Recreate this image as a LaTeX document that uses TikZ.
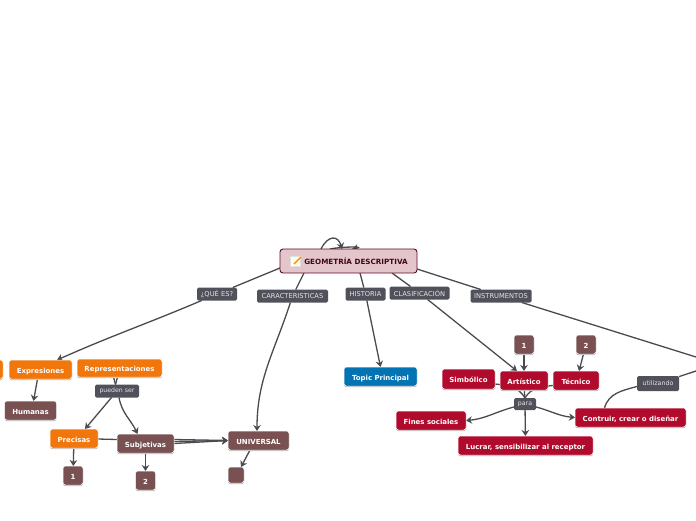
\documentclass[tikz,border=0pt]{standalone}
\usepackage{fontspec}
\setmainfont{DejaVu Sans}
\usetikzlibrary{positioning,shadows,backgrounds,arrows.meta}
\definecolor{rootFill}{HTML}{E4C5CB}
\definecolor{rootDark}{HTML}{5A0A20}
\definecolor{mapOrange}{HTML}{F1760C}
\definecolor{mapBrown}{HTML}{7A5152}
\definecolor{mapRed}{HTML}{B00A2C}
\definecolor{mapBlue}{HTML}{0274B3}
\definecolor{tagGrey}{HTML}{50515A}
\definecolor{lineGrey}{HTML}{4A4A50}

\begin{document}
\begin{tikzpicture}[x=1pt, y=-1pt,
      box/.style={rounded corners=2.5pt, draw=white, line width=0.5pt, outer sep=0pt, inner sep=0pt,
                  minimum height=19pt, text=white, align=center, text height=7.5pt, text depth=0pt,
                  font=\fontsize{6.95}{8}\selectfont\bfseries,
                  drop shadow={shadow xshift=0pt, shadow yshift=-1.2pt, fill=black!28, opacity=1}},
      orangebox/.style={box, fill=mapOrange},
      brownbox/.style={box, fill=mapBrown},
      redbox/.style={box, fill=mapRed},
      bluebox/.style={box, fill=mapBlue},
      tag/.style={rounded corners=1.5pt, fill=tagGrey, outer sep=0pt, inner sep=0pt, minimum height=13pt,
                  text=white!90!black, font=\fontsize{6.7}{8}\selectfont},
      arr/.style={-{Stealth[length=6pt, width=7.5pt]}, line width=1.3pt, lineGrey},
      lin/.style={line width=1.3pt, lineGrey}]
    \useasboundingbox (0,0) rectangle (696,520);

    \node[rounded corners=3pt, fill=rootFill, draw=rootDark, line width=0.9pt, outer sep=0pt,
          minimum width=137pt, minimum height=24pt, text=rootDark!70!black,
          font=\fontsize{7.2}{8}\selectfont\bfseries] (root) at (348.5,261)
      {\hspace*{15pt}GEOMETRÍA DESCRIPTIVA};
    \fill[black!12] (290,256) rectangle (301,267);
    \fill[yellow!10!white] (291,257) rectangle (300,266);
    \draw[orange, line width=1.4pt] (294,264) -- (301,257);

    \node[tag, minimum width=40pt] (quees) at (217,294) {¿QUÉ ES?};
    \node[tag, minimum width=71pt] (caract) at (292.5,296) {CARACTERISTICAS};
    \node[tag, minimum width=40pt] (historia) at (365.5,294) {HISTORIA};
    \node[tag, minimum width=60pt] (clasif) at (419.5,293) {CLASIFICACIÓN};
    \node[tag, minimum width=61pt] (instr) at (501,296) {INSTRUMENTOS};

    \node[orangebox, minimum width=8pt] (cutoff) at (-1,369.5) {};
    \node[orangebox, minimum width=63pt] (expr) at (40.5,369.5) {Expresiones};
    \node[orangebox, minimum width=85pt, minimum height=18pt] (repr) at (119.5,368) {Representaciones};
    \node[tag, minimum width=44pt, font=\fontsize{6.2}{8}\selectfont] (pueden) at (117,391) {pueden ser};
    \node[brownbox, minimum width=52pt, below=22pt of expr.south, xshift=-10pt] (humanas) {Humanas};
    \node[orangebox, minimum width=48pt] (precisas) at (74,438.5) {Precisas};
    \node[brownbox, minimum width=57pt] (subj) at (145.5,443.5) {Subjetivas};
    \node[brownbox, minimum width=61pt] (univ) at (258.5,440.5) {UNIVERSAL};
    \node[brownbox, minimum width=20pt, below=18pt of precisas, xshift=-1pt] (uno) {1};
    \node[brownbox, minimum width=20pt, below=18pt of subj] (dos) {2};
    \node[brownbox, minimum width=16pt, minimum height=16pt] (vacio) at (236,475) {};

    \node[bluebox, minimum width=73pt] (topic) at (380.5,376.5) {Topic Principal};
    \node[redbox, minimum width=53pt, minimum height=20pt] (simb) at (468.5,379) {Simbólico};
    \node[redbox, minimum width=48pt] (art) at (524,380.5) {Artístico};
    \node[redbox, minimum width=46pt, right=5pt of art] (tec) {Técnico};
    \node[brownbox, minimum width=20pt, above=17pt of art] (artuno) {1};
    \node[brownbox, minimum width=20pt] (tecdos) at (586,344.5) {2};
    \node[tag, minimum width=22pt, minimum height=12pt, font=\fontsize{6.2}{8}\selectfont] (para) at (525,404) {para};
    \node[redbox, minimum width=70pt] (fines) at (431,420.5) {Fines sociales};
    \node[redbox, minimum width=111pt] (contruir) at (630.5,417.5) {Contruir, crear o diseñar};
    \node[redbox, minimum width=135pt] (lucrar) at (525.5,445.5) {Lucrar, sensibilizar al receptor};
    \node[tag, minimum width=42pt, minimum height=15pt, font=\fontsize{6.3}{8}\selectfont] (utiliz) at (658,383.5) {utilizando};
    \coordinate (edgeA) at (696,357);
    \coordinate (edgeB) at (696,371);

    \begin{scope}[on background layer]
      \draw[lin] ([yshift=-7pt]root.west) -- (quees);
      \draw[arr] (quees) to[out=203,in=24] ([xshift=16.5pt]expr.north);
      \draw[lin] ([xshift=24pt]root.south west) -- (caract);
      \draw[arr] (caract) to[out=-108,in=90] ([xshift=-1.5pt]univ.north);
      \draw[lin] ([xshift=80pt]root.south west) -- (historia);
      \draw[arr] (historia) -- (topic.north);
      \draw[lin] ([xshift=-25pt]root.south east) -- (clasif);
      \draw[arr] (clasif) -- ([xshift=-7pt]art.north);
      \draw[lin] ([yshift=-8pt]root.east) -- (instr);
      \draw[lin] (instr) -- (edgeA);
      \draw[arr] (root.north west) ++(41pt,0pt) .. controls +(7,-14) and +(-4,-14) .. ++(21pt,0pt);
      \draw[arr] ([xshift=50pt]root.north west) .. controls +(8,-2) and +(16,-3) .. ([xshift=72pt]root.north west);
      \draw[arr] ([xshift=-3pt]expr.south) -- ([xshift=3pt]humanas.north);
      \draw[lin] ([xshift=-6pt]repr.south) -- ([xshift=-1.5pt]pueden.north);
      \draw[lin] ([xshift=-2pt]repr.south) -- ([xshift=-1.5pt]pueden.north);
      \draw[arr] (pueden) -- ([xshift=11pt]precisas.north);
      \draw[arr] ([xshift=2pt]pueden.south) to[out=-80,in=115] ([xshift=-8pt]subj.north);
      \draw[lin] ([yshift=-0.5pt]precisas.east) -- ([yshift=4pt]subj.west);
      \draw[arr] ([yshift=4pt]subj.east) -- (univ.west);
      \draw[arr] ([yshift=2pt]subj.east) -- (univ.west);
      \draw[arr] (subj.east) -- (univ.west);
      \draw[arr] (precisas) -- (uno);
      \draw[arr] (subj) -- (dos);
      \draw[arr] ([xshift=-8.5pt]univ.south) -- ([xshift=5pt]vacio.north);
      \draw[arr] (artuno) -- (art);
      \draw[arr] (tecdos) -- ([xshift=3pt]tec.north);
      \draw[lin] (art) -- (para);
      \draw[lin] ([yshift=-5pt]simb.east) to[out=-5,in=120] (para.north);
      \draw[lin] ([yshift=-5pt]tec.west) to[out=185,in=60] (para.north);
      \draw[arr] (para) to[out=195,in=5] (fines.east);
      \draw[arr] (para) to[out=-15,in=175] (contruir.west);
      \draw[arr] (para) -- (lucrar);
      \draw[lin] (edgeB) -- (utiliz);
      \draw[lin] ([yshift=-3pt]utiliz.west) to[out=195,in=75] ([xshift=-26pt]contruir.north);
    \end{scope}
  \end{tikzpicture}
\end{document}
